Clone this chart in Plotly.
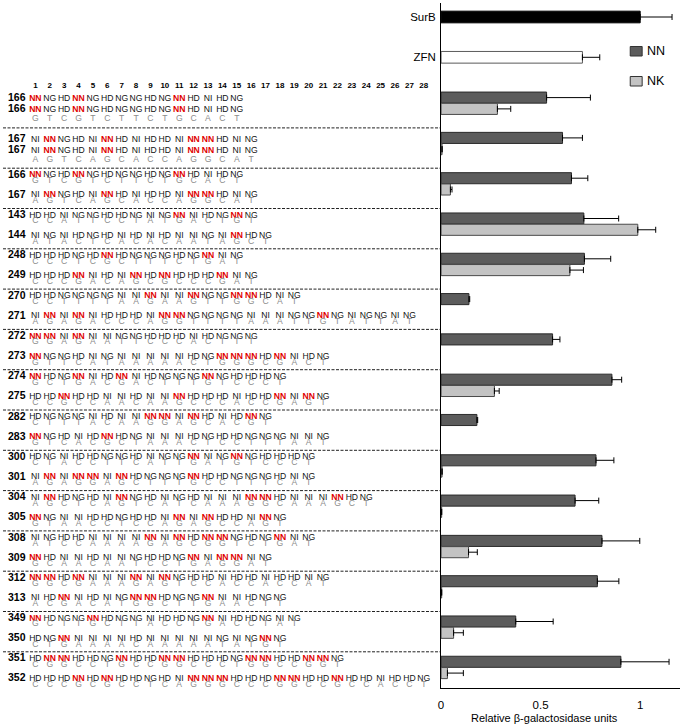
import plotly.graph_objects as go

# ---------------- data ----------------
control_labels = ["SurB", "ZFN"]
control_values = [1.00, 0.71]
control_err = [0.16, 0.087]

pair_labels = ["166/166", "167/167", "166/167", "143/144", "248/249", "270/271", "272/273",
               "274/275", "282/283", "300/301", "304/305", "308/309", "312/313", "349/350", "351/352"]
nn_values = [0.53, 0.61, 0.655, 0.717, 0.72, 0.14, 0.56, 0.858, 0.18, 0.778, 0.673, 0.808, 0.785, 0.375, 0.903]
nn_err = [0.22, 0.10, 0.082, 0.175, 0.132, 0.004, 0.037, 0.049, 0.004, 0.09, 0.119, 0.19, 0.108, 0.188, 0.242]
nk_values = [0.283, 0.005, 0.047, 0.988, 0.647, None, None, 0.268, None, 0.005, 0.003, 0.138, 0.003, 0.063, 0.032]
nk_err = [0.067, 0.0, 0.008, 0.09, 0.068, 0.0, 0.0, 0.024, 0.0, 0.0, 0.0, 0.044, 0.0, 0.049, 0.08]

tal_ids = ["166", "166", "167", "167", "166", "167", "143", "144", "248", "249", "270", "271",
           "272", "273", "274", "275", "282", "283", "300", "301", "304", "305", "308", "309",
           "312", "313", "349", "350", "351", "352"]
tal_rvds = [
    "NN NG HD NN NG HD NG NG HD NG NN HD NI HD NG",
    "NN NG HD NN NG HD NG NG HD NG NN HD NI HD NG",
    "NI NN NG HD NI NN HD NI HD HD NI NN NN HD NI NG",
    "NI NN NG HD NI NN HD NI HD HD NI NN NN HD NI NG",
    "NN NG HD NN NG HD NG NG HD NG NN HD NI HD NG",
    "NI NN NG HD NI NN HD NI HD HD NI NN NN HD NI NG",
    "HD HD NI NG NG HD HD NG NI NG NN NI HD NG NN NG",
    "NI NG NI HD NG HD NI HD NI HD NI NI NG NI NN HD NG",
    "HD HD HD NG HD NN HD NG NG NG HD NG NN NI NG",
    "HD HD HD NN NI HD NI NN HD NN HD HD HD NN NI NG",
    "HD HD NG NG NG NG NI NI NN NI NI NN NG NG NN NN HD NI NG",
    "NI NN NI NN NI HD HD HD NI NN NN NG NG NG NG NI NI NI NG NG NN NG NI NG NG NI NG",
    "NN NN NI NN NI NI NG NG HD HD HD NI HD NG NG NG",
    "NN NG NG HD NI NG NI NI NI NI NI HD NG NN NN NN HD NN NI HD NG",
    "NN HD NG NN NI HD NN NI HD NG NG NG NN NG HD HD HD NG",
    "HD HD NN HD HD NI NI HD NI NI NN HD HD HD NI HD HD NN NI NN NG",
    "HD NG NG NG NI HD NI NI NN NN NI NN HD NI HD NN NG",
    "NN NG HD NI HD NN HD NG NI NI NI HD NG HD HD NG NG NG NI NI NG",
    "HD NG NI HD HD NG NG HD NI NG NG NN NI NG NN NG HD HD HD NG",
    "NI NN NI NN NN NI NN HD NG NG NG NN HD HD NG NG NG HD NI NG",
    "NI NN HD NG HD NI NN NG HD NI NG HD NI NI NI NN NN HD NI NI NI NN HD NG",
    "NN NG NI NI HD HD NG HD HD NI NN NI NN HD HD NI NN NG",
    "NI NG HD HD NI NI NI NI NN NI NN HD NN NN NG HD NG NN NI NG",
    "NN HD NI NI HD NI NI NG HD HD NG NN NI NN NN NI NG",
    "NN NN HD NN NI NI NI NN NI NN NG HD HD NI HD HD NI HD HD NI NG",
    "NI HD NN NI HD NI NG NN NN HD NG NG NN NI NI HD NG NG",
    "NN HD NG NG NN HD NG NG NI HD HD NG NN NI HD HD NG NI NG",
    "HD NG NN NI NI NI NI HD NI NI NI NI NI NG NI NG NN NG",
    "HD NN NN HD HD NG NN HD HD NN NN HD HD HD NG NN NN HD HD NN NN NG",
    "HD HD HD NN HD NN HD HD NG HD NI NN NN NN HD HD HD NN NN HD HD NN HD HD NI HD HD NG",
]
target_seqs = [
    "GTCGTCTTCTGCACT",
    "AGTCAGCACCAGGCAT",
    "GTCGTCTTCTGCACT",
    "AGTCAGCACCAGGCAT",
    "CCATTCCTATGACTGT",
    "ATACTCACACAATAGCT",
    "CCCTCGCTTTCTGAT",
    "CCCGACAGCGCCCGAT",
    "CCTTTTAAGAAGTTGGCAT",
    "AGAGACCCAGGTTTTAAATTGTATTAT",
    "GGAGAATTCCCACTTT",
    "GTTCATAAAAACTGGGCGACT",
    "GCTGACGACTTTGTCCCT",
    "CCGCCAACAAGCCCACCGAGT",
    "CTTTACAAGGAGCACGT",
    "GTCACGCTAAACTCCTTTAAT",
    "CTACCTTCATTGATGTCCCT",
    "AGAGGAGCTTTGCCTTTCAT",
    "AGCTCAGTCATCAAAGGCAAAGCT",
    "GTAACCTCCAGAGCCAGT",
    "ATCCAAAAGAGCGGTCTGAT",
    "GCAACAATCCTGAGGAT",
    "GGCGAAAGAGTCCACCACCAT",
    "ACGACATGGCTTGAACTT",
    "GCTTGCTTACCTGACCTAT",
    "CTGAAAACAAAAATATGT",
    "CGGCCTGCCGGCCCTGGCCGGT",
    "CCCGCGCCTCAGGGCCCGGCCGCCACCT",
]
position_numbers = [str(k) for k in range(1, 29)]

# ---------------- geometry helpers ----------------
FONT = "Liberation Sans, Arial, sans-serif"
W, H = 683, 728
ML, MR, MT, MB = 0, 3, 3, 40
PW = W - ML - MR
PH = H - MT - MB
AX0 = 440                      # pixel x of value axis origin
ROW0, ROWH = 17.0, 40.3        # pixel y of group 0 and spacing
Y_TOP = (MT - ROW0) / ROWH
Y_BOT = Y_TOP + PH / ROWH


def yu(p):
    return (p - ROW0) / ROWH


def px_paper(x):
    return (x - ML) / PW


def py_paper(y):
    return 1 - (y - MT) / PH


COL_X0, COL_DX = 32.5, 14.45
NK_OFF = 0.28
BW = 0.275

fig = go.Figure()

# control bars
fig.add_trace(go.Bar(
    orientation="h", y=[0, 1], x=control_values, width=0.29,
    marker=dict(color=["#000000", "#ffffff"], line=dict(color=["#000000", "#5a5a5a"], width=1)),
    error_x=dict(type="data", symmetric=False, array=control_err, arrayminus=[0, 0],
                 color="#000000", thickness=1, width=3),
    showlegend=False, hoverinfo="x"))

pair_y = [i + 2 for i in range(len(pair_labels))]
fig.add_trace(go.Bar(
    orientation="h", y=pair_y, x=nn_values, width=BW, name="NN",
    marker=dict(color="#5c5c5c", line=dict(color="#2b2b2b", width=1)),
    error_x=dict(type="data", symmetric=False, array=nn_err, arrayminus=[0] * len(nn_err),
                 color="#000000", thickness=1, width=3),
    showlegend=False, hoverinfo="x"))
fig.add_trace(go.Bar(
    orientation="h", y=[v + NK_OFF for v in pair_y], x=nk_values, width=BW, name="NK",
    marker=dict(color="#c3c3c3", line=dict(color="#4a4a4a", width=1)),
    error_x=dict(type="data", symmetric=False, array=nk_err, arrayminus=[0] * len(nk_err),
                 color="#000000", thickness=1, width=3),
    showlegend=False, hoverinfo="x"))

# ---------------- left-hand text ----------------
rvd_y, seq_y = [], []
for gi in range(2, 17):
    if gi == 2:
        rvd_y += [98.5, 109.5]
        seq_y += [119.0]
    elif gi == 3:
        d = 7 + ROWH * gi
        rvd_y += [d + 11.5, d + 22.5]
        seq_y += [d + 31.5]
    else:
        d = 7 + ROWH * gi
        rvd_y += [d + 7, d + 27]
        seq_y += [d + 12.8, d + 33]

lab_x, lab_y, lab_t = [], [], []
blk_x, blk_y, blk_t = [], [], []
red_x, red_y, red_t = [], [], []
for tid, rvds, py in zip(tal_ids, tal_rvds, rvd_y):
    lab_x.append(5)
    lab_y.append(yu(py))
    lab_t.append(tid)
    for k, r in enumerate(rvds.split()):
        if r == "NN":
            red_x.append(COL_X0 + COL_DX * k)
            red_y.append(yu(py))
            red_t.append(r)
        else:
            blk_x.append(COL_X0 + COL_DX * k)
            blk_y.append(yu(py))
            blk_t.append(r)

sq_x, sq_y, sq_t = [], [], []
for seq, py in zip(target_seqs, seq_y):
    for k, ch in enumerate(seq):
        sq_x.append(COL_X0 + COL_DX * k)
        sq_y.append(yu(py))
        sq_t.append(ch)

num_x = [COL_X0 + COL_DX * k for k in range(len(position_numbers))]
num_y = [yu(86)] * len(position_numbers)

common = dict(xaxis="x2", yaxis="y", mode="text", showlegend=False, hoverinfo="skip", cliponaxis=False)
fig.add_trace(go.Scatter(x=lab_x, y=lab_y, text=lab_t, textposition="middle right",
                         textfont=dict(family=FONT, size=10.5, color="#000000", weight="bold"), **common))
fig.add_trace(go.Scatter(x=blk_x, y=blk_y, text=blk_t, textposition="middle center",
                         textfont=dict(family=FONT, size=8.6, color="#111111"), **common))
fig.add_trace(go.Scatter(x=red_x, y=red_y, text=red_t, textposition="middle center",
                         textfont=dict(family=FONT, size=8.6, color="#e00000", weight="bold"), **common))
fig.add_trace(go.Scatter(x=sq_x, y=sq_y, text=sq_t, textposition="middle center",
                         textfont=dict(family=FONT, size=8.6, color="#8c8c8c"), **common))
fig.add_trace(go.Scatter(x=num_x, y=num_y, text=position_numbers, textposition="middle center",
                         textfont=dict(family=FONT, size=8, color="#000000", weight="bold"), **common))

# dashed separators
sx, sy = [], []
for gi in range(3, 17):
    yy = yu(7 + ROWH * gi)
    sx += [0, AX0 - 1, None]
    sy += [yy, yy, None]
fig.add_trace(go.Scatter(x=sx, y=sy, xaxis="x2", yaxis="y", mode="lines",
                         line=dict(color="#222222", width=1, dash="3px,1.5px"),
                         showlegend=False, hoverinfo="skip"))

# ---------------- legend (keys + text) ----------------
shapes = []
annotations = []
for name, col, ytop in [("NN", "#5c5c5c", 46.5), ("NK", "#c3c3c3", 76.5)]:
    shapes.append(dict(type="rect", xref="paper", yref="paper",
                       x0=px_paper(630), x1=px_paper(642), y0=py_paper(ytop), y1=py_paper(ytop + 9.5),
                       fillcolor=col, line=dict(color="#333333", width=1)))
    annotations.append(dict(xref="paper", yref="paper", x=px_paper(644.5), y=py_paper(ytop + 4.8),
                            text=name, showarrow=False, xanchor="left", yanchor="middle",
                            font=dict(family=FONT, size=12.5, color="#000000")))

annotations.append(dict(xref="paper", yref="paper", x=px_paper(544), y=py_paper(718),
                        text="Relative β-galactosidase units", showarrow=False,
                        xanchor="center", yanchor="middle",
                        font=dict(family=FONT, size=11, color="#000000")))

fig.update_layout(
    width=W, height=H,
    margin=dict(l=ML, r=MR, t=MT, b=MB),
    paper_bgcolor="#ffffff", plot_bgcolor="#ffffff",
    barmode="overlay",
    shapes=shapes, annotations=annotations,
    font=dict(family=FONT, size=11, color="#000000"),
    xaxis=dict(domain=[px_paper(AX0), 1], range=[0, 1.2], anchor="y",
               tickvals=[0, 0.5, 1], ticktext=["0", "0.5", "1"],
               showline=True, linecolor="#000000", linewidth=1,
               showgrid=False, zeroline=False, ticks="", ticklabelstandoff=6,
               tickfont=dict(family=FONT, size=11.5, color="#000000")),
    xaxis2=dict(domain=[0, px_paper(AX0)], range=[0, AX0 - ML], anchor="y", visible=False),
    yaxis=dict(range=[Y_BOT, Y_TOP], anchor="x",
               tickvals=[0, 1], ticktext=control_labels,
               showline=True, linecolor="#000000", linewidth=1,
               showgrid=False, zeroline=False, ticks="", ticklabelstandoff=2,
               tickfont=dict(family=FONT, size=11.5, color="#000000")),
)

fig.write_html("out.html",
               config={"displayModeBar": False},
               post_script="document.body.style.margin='0';document.body.style.overflow='hidden';")
